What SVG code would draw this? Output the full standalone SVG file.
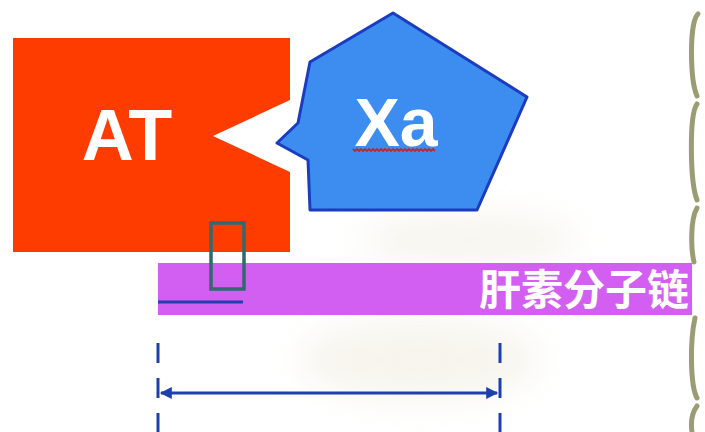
<svg xmlns="http://www.w3.org/2000/svg" width="705" height="432" viewBox="0 0 705 432">
<defs>
<filter id="blur" x="-50%" y="-50%" width="200%" height="200%"><feGaussianBlur stdDeviation="18"/></filter>
<marker id="arr" viewBox="0 0 10 10" refX="9" refY="5" markerWidth="5" markerHeight="4" orient="auto-start-reverse"><path d="M0,0 L10,5 L0,10 z" fill="#1e3fae"/></marker>
</defs>
<style>
.lbl{font-family:"Liberation Sans",Arial,sans-serif;font-weight:bold;fill:#ffffff}
.cjk{font-family:"Noto Sans CJK SC","Liberation Sans",sans-serif;font-weight:bold;fill:#ffffff}
.dash{stroke:#1e3fae;stroke-width:3;stroke-dasharray:20 15;fill:none}
.wave{fill:none;stroke:#9c9c74;stroke-width:5;stroke-linecap:round}
</style>
<rect width="705" height="432" fill="#ffffff"/>
<g id="background" filter="url(#blur)" opacity="0.5">
<ellipse cx="470" cy="240" rx="110" ry="25" fill="#eeeadb"/>
<ellipse cx="420" cy="360" rx="120" ry="40" fill="#eeeadb"/>
</g>
<g id="at">
<path d="M13,38 H290 V100 L213,136 L290,172 V252 H13 Z" fill="#ff3c00"/>
<text class="lbl" x="127" y="160" font-size="72" text-anchor="middle">AT</text>
</g>
<g id="xa">
<path d="M393,13 L527,97 L477,210 L310,210 L308,160 L277,143 L298,123 L310,62 Z" fill="#3d8df0" stroke="#1a3cc0" stroke-width="3" stroke-linejoin="round"/>
<text class="lbl" x="396" y="146" font-size="68" text-anchor="middle">Xa</text>
<path d="M353,149 l2,2 l2,-2 l2,2 l2,-2 l2,2 l2,-2 l2,2 l2,-2 l2,2 l2,-2 l2,2 l2,-2 l2,2 l2,-2 l2,2 l2,-2 l2,2 l2,-2 l2,2 l2,-2 l2,2 l2,-2 l2,2 l2,-2 l2,2 l2,-2 l2,2 l2,-2 l2,2 l2,-2 l2,2 l2,-2 l2,2 l2,-2 l2,2 l2,-2 l2,2 l2,-2 l2,2 l2,-2 l2,2" fill="none" stroke="#c02828" stroke-width="1.8"/>
</g>
<g id="heparin">
<rect x="158" y="263" width="534" height="52" fill="#d35ff2"/>
<text class="cjk" x="689" y="305" font-size="42" text-anchor="end">肝素分子链</text>
</g>
<g id="site">
<rect x="211" y="223" width="33" height="66" fill="none" stroke="#2f6a6e" stroke-width="3.5"/>
</g>
<g id="connectors">
<line x1="158" y1="302" x2="243" y2="302" stroke="#2040b0" stroke-width="3"/>
<line class="dash" x1="158" y1="343" x2="158" y2="432"/>
<line class="dash" x1="500" y1="343" x2="500" y2="432"/>
<line x1="161" y1="393" x2="497" y2="393" stroke="#1e3fae" stroke-width="3" marker-start="url(#arr)" marker-end="url(#arr)"/>
</g>
<g id="wavy">
<path class="wave" d="M698,14 C689,22 690,80 697,96"/>
<path class="wave" d="M697,104 C689,115 690,182 697,200"/>
<path class="wave" d="M697,208 C690,220 691,250 694,262"/>
<path class="wave" d="M695,318 C690,340 690,385 697,398"/>
<path class="wave" d="M697,406 C691,414 691,425 692,432"/>
</g>
</svg>
